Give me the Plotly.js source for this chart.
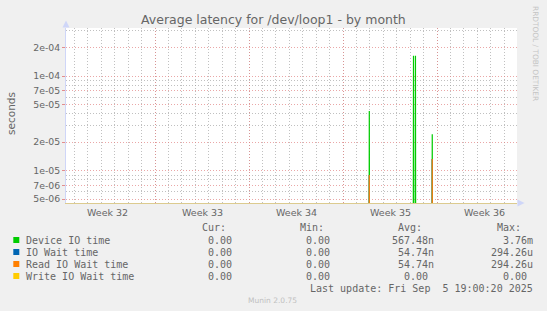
<!DOCTYPE html>
<html><head><meta charset="utf-8">
<script src="https://cdn.plot.ly/plotly-3.0.1.min.js"></script>
<style>html,body{margin:0;padding:0;background:#f0f0f0;}#chart{width:547px;height:311px;}</style>
</head><body><div id="chart"></div>
<script>
// ---------- data ----------
const titleText = 'Average latency for /dev/loop1 - by month';
const yAxisLabel = 'seconds';
const seriesNames = ['Device IO time', 'IO Wait time', 'Read IO Wait time', 'Write IO Wait time'];
const seriesColors = ['#00cc00', '#0066b3', '#ff8000', '#ffcc00'];

const deviceTimes = ['2025-08-26 23:00', '2025-08-30 06:00', '2025-08-30 09:30', '2025-08-31 15:30'];
const deviceValues = [4.27e-5, 1.64e-4, 1.64e-4, 2.42e-5];
const ioWaitTimes = ['2025-08-26 23:00', '2025-08-31 15:30'];
const ioWaitValues = [9.0e-6, 1.33e-5];
const readTimes = ['2025-08-26 23:00', '2025-08-31 15:30'];
const readValues = [9.0e-6, 1.33e-5];
const writeTimes = [];
const writeValues = [];

const curVals = ['0.00', '0.00', '0.00', '0.00'];
const minVals = ['0.00', '0.00', '0.00', '0.00'];
const avgVals = ['567.48n', '54.74n', '54.74n', '0.00'];
const maxVals = ['3.76m', '294.26u', '294.26u', '0.00'];
const colHeaders = ['Cur:', 'Min:', 'Avg:', 'Max:'];
const lastUpdate = 'Last update: Fri Sep\u00a0 5 19:00:20 2025';
const footer = 'Munin 2.0.75';
const sideText = 'RRDTOOL / TOBI OETIKER';

const weekStarts = ['2025-08-11', '2025-08-18', '2025-08-25', '2025-09-01'];
const weekMids = ['2025-08-07 12:00', '2025-08-14 12:00', '2025-08-21 12:00', '2025-08-28 12:00', '2025-09-04 12:00'];
const weekLabels = ['Week 32', 'Week 33', 'Week 34', 'Week 35', 'Week 36'];
const yTickVals = [5e-6, 7e-6, 1e-5, 2e-5, 5e-5, 7e-5, 1e-4, 2e-4];
const yTickText = ['5e-06', '7e-06', '1e-05', '2e-05', '5e-05', '7e-05', '1e-04', '2e-04'];
const yMinorVals = [6e-6, 8e-6, 9e-6, 3e-5, 4e-5, 6e-5, 8e-5, 9e-5, 3e-4];

// ---------- layout helpers ----------
const W = 547, H = 311, L = 66, R = 30, T = 28, B = 108;
const plotW = W - L - R, plotH = H - T - B, bottomPx = H - B;
const px = x => (x - L) / plotW;
const py = y => (bottomPx - y) / plotH;
const FLOOR = 1e-9; // below visible range (zero on log axis)
const HOUR = 3600000;

function spikes(times, vals) {
  const xs = [], ys = [];
  times.forEach((t, i) => {
    const c = new Date(t.replace(' ', 'T') + ':00Z').getTime();
    xs.push(new Date(c - HOUR).toISOString(), new Date(c).toISOString(), new Date(c + HOUR).toISOString(), null);
    ys.push(FLOOR, vals[i], FLOOR, null);
  });
  return {xs, ys};
}

const allSeries = [[deviceTimes, deviceValues], [ioWaitTimes, ioWaitValues], [readTimes, readValues], [writeTimes, writeValues]];
const traces = allSeries.map((s, i) => {
  const d = spikes(s[0], s[1]);
  return {type: 'scatter', mode: 'lines', x: d.xs, y: d.ys, name: seriesNames[i],
    line: {color: seriesColors[i], width: 1.2}, connectgaps: false, hoverinfo: 'skip'};
});

const txt = '#666666';
const mono = 'DejaVu Sans Mono';
const ann = [];
function A(text, x, y, xanchor, opts) {
  ann.push(Object.assign({text, xref: 'paper', yref: 'paper', x: px(x), y: py(y), xanchor, yanchor: 'middle',
    showarrow: false, borderpad: 0, borderwidth: 0,
    font: {family: mono, size: 10, color: txt}}, opts || {}));
}
// title
A(titleText, 273, 19.5, 'center', {font: {family: 'DejaVu Sans', size: 12.5, color: txt}});
// y label
A(yAxisLabel, 11, 114, 'center', {textangle: -90, font: {family: 'DejaVu Sans', size: 10.5, color: txt}});
// side text
A(sideText, 536, 53, 'center', {textangle: 90, font: {family: 'DejaVu Sans', size: 7.4, color: '#c4c4c4'}});
// week labels (placed on the data x scale)
weekMids.forEach((m, i) => {
  ann.push({text: weekLabels[i], xref: 'x', yref: 'paper', x: m, y: py(212.5), xanchor: 'center', yanchor: 'middle',
    showarrow: false, borderpad: 0, borderwidth: 0, font: {family: 'DejaVu Sans', size: 9.5, color: txt}});
});
// legend table
const colEnds = [238, 335.7, 434.4, 533];
const CH = 6.02;
colHeaders.forEach((h, c) => A(h, colEnds[c] - 2 * CH, 227.5, 'right'));
const rowsY = [240, 252, 264, 276];
const cols = [curVals, minVals, avgVals, maxVals];
seriesNames.forEach((n, r) => {
  A(n, 26, rowsY[r], 'left');
  cols.forEach((arr, c) => {
    const v = arr[r];
    const hasUnit = /[a-zA-Z]$/.test(v);
    A(v, colEnds[c] - (hasUnit ? 0 : CH), rowsY[r], 'right');
  });
});
A(lastUpdate, 533, 288, 'right');
A(footer, 272.5, 300, 'center', {font: {family: 'DejaVu Sans', size: 7.5, color: '#c0c0c0'}});

// legend swatches and arrows
const shapes = [];
seriesColors.forEach((col, r) => {
  shapes.push({type: 'rect', xref: 'paper', yref: 'paper', x0: px(13.3), x1: px(19.3), y0: py(rowsY[r] + 3), y1: py(rowsY[r] - 3),
    fillcolor: col, line: {width: 0}});
});
const arrowCol = '#cfd6f8';
shapes.push({type: 'path', xref: 'paper', yref: 'paper',
  path: `M ${px(66)} ${py(20.5)} L ${px(62.5)} ${py(27.5)} L ${px(69.5)} ${py(27.5)} Z`, fillcolor: arrowCol, line: {width: 0}});
shapes.push({type: 'path', xref: 'paper', yref: 'paper',
  path: `M ${px(524.5)} ${py(203)} L ${px(517.5)} ${py(199.5)} L ${px(517.5)} ${py(206.5)} Z`, fillcolor: arrowCol, line: {width: 0}});

const gridRed = 'rgba(225,130,130,0.7)';
const gridGray = 'rgba(150,150,150,0.6)';
const layout = {
  width: W, height: H,
  margin: {l: L, r: R, t: T, b: B, pad: 0},
  paper_bgcolor: '#f0f0f0', plot_bgcolor: '#ffffff',
  showlegend: false,
  xaxis: {
    type: 'date', range: ['2025-08-04 08:57', '2025-09-06 22:58'],
    tickmode: 'array', tickvals: weekStarts, ticktext: weekStarts.map(() => ''),
    showgrid: true, gridcolor: gridRed, griddash: '1px,2px', gridwidth: 1,
    ticks: '', showline: true, linecolor: '#dccb8f', linewidth: 1, zeroline: false,
    minor: {dtick: 86400000, tick0: '2025-08-04', showgrid: true, gridcolor: gridGray, griddash: '1px,2px', gridwidth: 1}
  },
  yaxis: {
    type: 'log', range: [-5.341, -3.493],
    tickmode: 'array', tickvals: yTickVals, ticktext: yTickText,
    showgrid: true, gridcolor: gridRed, griddash: '1px,2px', gridwidth: 1,
    minor: {tickmode: 'array', tickvals: yMinorVals, showgrid: true, gridcolor: gridGray, griddash: '1px,2px', gridwidth: 1},
    ticks: 'outside', ticklen: 3, tickcolor: 'rgba(225,130,130,0.9)',
    tickfont: {family: 'DejaVu Sans', size: 9.33, color: txt},
    showline: true, linecolor: '#cfd6f8', linewidth: 1, zeroline: false
  },
  annotations: ann,
  shapes: shapes
};
Plotly.newPlot('chart', traces, layout, {staticPlot: true, displayModeBar: false});
</script></body></html>
